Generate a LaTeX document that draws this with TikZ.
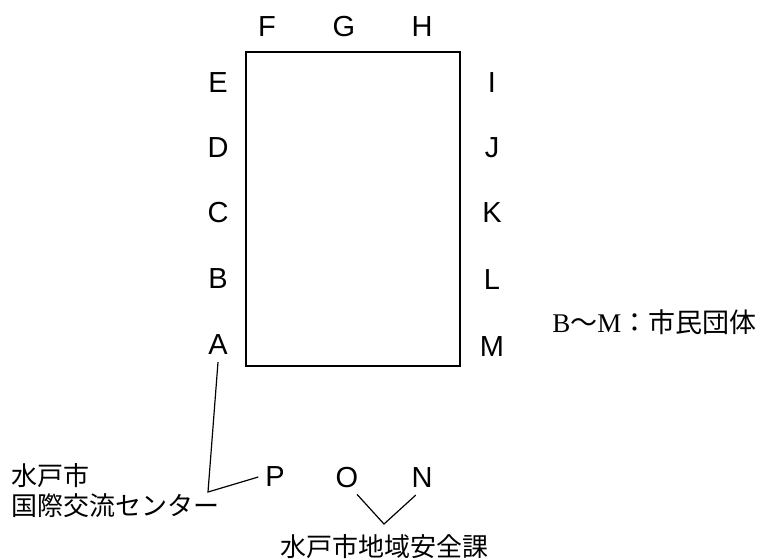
\documentclass[tikz,border=0pt]{standalone}
\usepackage{fontspec}
\setmainfont{Liberation Serif}
\setsansfont{Liberation Sans}
\newfontfamily\cjk{Noto Sans CJK JP}
\usetikzlibrary{calc,positioning}

\tikzset{
  letter/.style={font=\sffamily\fontsize{14.5}{16}\selectfont},
  jtext/.style={font=\cjk\fontsize{13}{15}\selectfont, inner sep=0pt},
  link/.style={line width=0.6pt}
}

\begin{document}
\begin{tikzpicture}[x=0.5pt,y=-0.5pt]
\useasboundingbox (0,0) rectangle (759,559);

% the box
\draw[line width=1pt] (246,52) rectangle (460,366);

% letters round the box
\foreach \n/\x in {F/267,G/344,H/422}
   \node[letter] (\n) at (\x,27) {\n};
\foreach \n/\y in {E/83,D/148,C/213,B/279,A/345}
   \node[letter] (\n) at (218,\y) {\n};
\foreach \n/\y in {I/83,J/148,K/213,L/280,M/347}
   \node[letter] (\n) at (492,\y) {\n};

% letters below
\node[letter] (P) at (275,477) {P};
\node[letter] (O) at (347,477) {O};
\node[letter] (N) at (422,478) {N};

% labels
\node[jtext, anchor=west, align=left] (center) at (11,491) {水戸市\\国際交流センター};
\node[jtext] (safety) at (384,547) {水戸市地域安全課};
\node[jtext, anchor=west, font=\cjk\fontsize{13.5}{15}\selectfont] (groups) at (552,322)
   {{\rmfamily\fontsize{13.5}{15}\selectfont B}～{\rmfamily\fontsize{13.5}{15}\selectfont M}：市民団体};

% the lines
\coordinate (kinkA) at (208,492);
\coordinate (kinkO) at (384,524);
\draw[link] (A.south) -- (kinkA) -- (P.west);
\draw[link] (O.-60) -- (kinkO) -- (N.-110);

\end{tikzpicture}
\end{document}
